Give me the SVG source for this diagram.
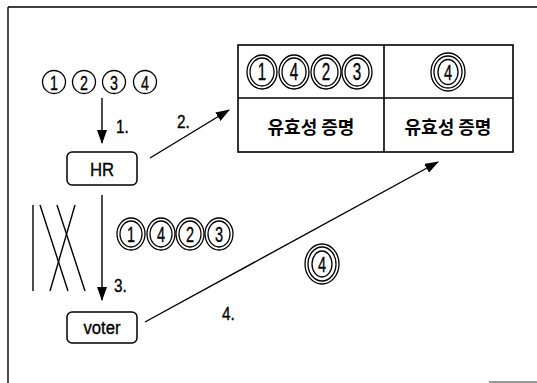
<svg xmlns="http://www.w3.org/2000/svg" width="537" height="383" viewBox="0 0 537 383">
<defs>
<style>
.ln{stroke:#000;stroke-width:1.4;fill:none}
.box{fill:#fff;stroke:#000;stroke-width:1.5}
.t{font-family:"Liberation Sans",Arial,sans-serif;fill:#000;stroke:#000;stroke-width:0.35;text-anchor:middle}
.lbl{font-size:18px;text-anchor:start}
.n21{font-size:21px}
.n22{font-size:22px}
.n23{font-size:23px}
.nm{font-size:19px}
.kr{font-family:"Noto Sans CJK KR",sans-serif;font-size:18px;font-weight:700;text-anchor:middle;fill:#000}
.ring{fill:none;stroke:#000;stroke-width:1.3}
</style>
<marker id="ah" viewBox="0 0 14 10" refX="13" refY="5" markerWidth="14" markerHeight="10" markerUnits="userSpaceOnUse" orient="auto">
<path d="M0,0 L14,5 L0,10 Z" fill="#000"/>
</marker>
</defs>
<rect width="537" height="383" fill="#fff"/>
<g id="frame">
<line x1="8" y1="7" x2="537" y2="7" class="ln"/>
<line x1="8" y1="7" x2="8" y2="383" class="ln"/>
<line x1="489" y1="382" x2="537" y2="382" stroke="#777" stroke-width="1.5"/>
</g>
<g id="inputs">
<ellipse cx="54" cy="82" rx="11.5" ry="11.5" class="ring"/>
<ellipse cx="84" cy="82" rx="11.5" ry="11.5" class="ring"/>
<ellipse cx="114" cy="82" rx="11.5" ry="11.5" class="ring"/>
<ellipse cx="145" cy="82" rx="11.5" ry="11.5" class="ring"/>
<text class="t n21" transform="translate(54,89.5) scale(0.68,1)">1</text>
<text class="t n21" transform="translate(84,89.5) scale(0.68,1)">2</text>
<text class="t n21" transform="translate(114,89.5) scale(0.68,1)">3</text>
<text class="t n21" transform="translate(145,89.5) scale(0.68,1)">4</text>
</g>
<g id="hr">
<rect x="67" y="152" width="70" height="33" rx="5" class="box"/>
<text class="t nm" transform="translate(102,175.5) scale(0.88,1)">HR</text>
</g>
<g id="voter">
<rect x="67" y="312" width="70" height="31" rx="5" class="box"/>
<text class="t nm" transform="translate(102,333.5) scale(0.88,1)">voter</text>
</g>
<g id="shuffle">
<line x1="33" y1="205" x2="33" y2="291" class="ln"/>
<line x1="40" y1="205" x2="68" y2="291" class="ln"/>
<line x1="57" y1="205" x2="85" y2="291" class="ln"/>
<line x1="75" y1="205" x2="50" y2="291" class="ln"/>
</g>
<g id="mixed">
<ellipse cx="131" cy="234" rx="14" ry="16" class="ring"/><ellipse cx="131" cy="234" rx="11" ry="13" class="ring"/>
<ellipse cx="161" cy="234" rx="14" ry="16" class="ring"/><ellipse cx="161" cy="234" rx="11" ry="13" class="ring"/>
<ellipse cx="190" cy="234" rx="14" ry="16" class="ring"/><ellipse cx="190" cy="234" rx="11" ry="13" class="ring"/>
<ellipse cx="219" cy="234" rx="14" ry="16" class="ring"/><ellipse cx="219" cy="234" rx="11" ry="13" class="ring"/>
<text class="t n22" transform="translate(131,242) scale(0.66,1)">1</text>
<text class="t n22" transform="translate(161,242) scale(0.66,1)">4</text>
<text class="t n22" transform="translate(190,242) scale(0.66,1)">2</text>
<text class="t n22" transform="translate(219,242) scale(0.66,1)">3</text>
</g>
<g id="vote4">
<ellipse cx="322" cy="264" rx="17" ry="20" class="ring"/>
<ellipse cx="322" cy="264" rx="14" ry="17" class="ring"/>
<ellipse cx="322" cy="264" rx="10" ry="13" class="ring"/>
<text class="t n22" transform="translate(322,272) scale(0.66,1)">4</text>
</g>
<g id="table">
<rect x="238" y="45" width="275" height="107" fill="#fff" stroke="#000" stroke-width="1.6"/>
<line x1="384" y1="45" x2="384" y2="152" stroke="#000" stroke-width="1.6"/>
<line x1="238" y1="98" x2="513" y2="98" stroke="#000" stroke-width="1.6"/>
<ellipse cx="262" cy="72" rx="15" ry="17" class="ring"/><ellipse cx="262" cy="72" rx="12" ry="14" class="ring"/>
<ellipse cx="294" cy="72" rx="15" ry="17" class="ring"/><ellipse cx="294" cy="72" rx="12" ry="14" class="ring"/>
<ellipse cx="326" cy="72" rx="15" ry="17" class="ring"/><ellipse cx="326" cy="72" rx="12" ry="14" class="ring"/>
<ellipse cx="357" cy="72" rx="15" ry="17" class="ring"/><ellipse cx="357" cy="72" rx="12" ry="14" class="ring"/>
<text class="t n23" transform="translate(262,80) scale(0.66,1)">1</text>
<text class="t n23" transform="translate(294,80) scale(0.66,1)">4</text>
<text class="t n23" transform="translate(326,80) scale(0.66,1)">2</text>
<text class="t n23" transform="translate(357,80) scale(0.66,1)">3</text>
<ellipse cx="448" cy="72" rx="17" ry="19" class="ring"/>
<ellipse cx="448" cy="72" rx="14" ry="16" class="ring"/>
<ellipse cx="448" cy="72" rx="10" ry="12.5" class="ring"/>
<text class="t n22" transform="translate(448,80) scale(0.66,1)">4</text>
<text class="kr" x="311" y="134">유효성 증명</text>
<text class="kr" x="448" y="134">유효성 증명</text>
</g>
<g id="connectors">
<line x1="102" y1="98" x2="102" y2="143" class="ln" marker-end="url(#ah)"/>
<line x1="150" y1="158" x2="229" y2="110" class="ln" marker-end="url(#ah)"/>
<line x1="102" y1="195" x2="102" y2="300" class="ln" marker-end="url(#ah)"/>
<line x1="145" y1="322" x2="438" y2="162" class="ln" marker-end="url(#ah)"/>
<text class="t lbl" transform="translate(116,133) scale(0.85,1)">1.</text>
<text class="t lbl" transform="translate(177,128) scale(0.85,1)">2.</text>
<text class="t lbl" transform="translate(114,292) scale(0.85,1)">3.</text>
<text class="t lbl" transform="translate(222,320) scale(0.85,1)">4.</text>
</g>
</svg>
